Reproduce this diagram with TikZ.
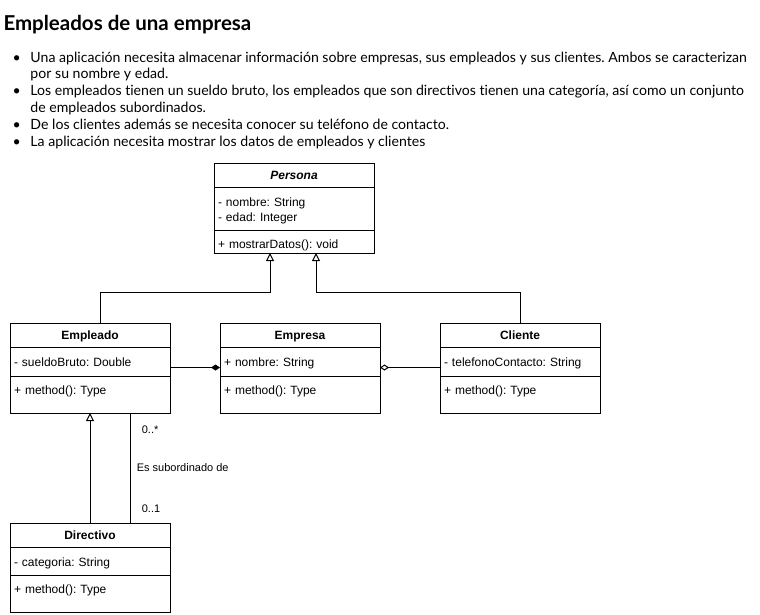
\documentclass[tikz,border=0pt]{standalone}
\usepackage{fontspec}
\setmainfont{Lato}[Ligatures=NoCommon]
\newfontfamily\umlfont{Liberation Sans}
\usetikzlibrary{arrows.meta, positioning}
\frenchspacing

\begin{document}
\begin{tikzpicture}[x=1pt, y=-1pt, line width=1pt,
  classname/.style={draw, minimum width=160, minimum height=24, inner sep=0pt, outer sep=0pt, text height=10pt, text depth=1pt, font=\umlfont\fontsize{12}{14}\selectfont\bfseries},
  attrs/.style={draw, text width=152, inner xsep=4pt, inner ysep=0pt, outer sep=0pt, align=left, font=\umlfont\fontsize{12}{15}\selectfont, text height=19, text depth=#1},
  meths/.style={draw, text width=152, inner xsep=4pt, inner ysep=0pt, outer sep=0pt, align=left, font=\umlfont\fontsize{12}{15}\selectfont, text height=18, text depth=#1},
  gen/.style={-{Triangle[open, length=8pt, width=8pt]}},
  comp/.style={-{Diamond[length=9pt, width=6pt]}},
  aggr/.style={-{Diamond[open, length=9pt, width=6pt]}},
  mult/.style={font=\umlfont\fontsize{11}{13}\selectfont, anchor=west}
]
\useasboundingbox (0,0) rectangle (760,614);

% Enunciado
\node[anchor=base west, inner sep=0pt, font=\fontsize{20.5}{24}\selectfont\bfseries] (titulo) at (3,30) {Empleados de una empresa};
\node[anchor=base west, inner sep=0pt, font=\fontsize{14.1}{16.8}\selectfont] (requisitos) at (10,62) {%
  \begin{tabular}[t]{@{}p{20pt}@{}l@{}}
  \hspace{2pt}\textbullet & Una aplicación necesita almacenar información sobre empresas, sus empleados y sus clientes. Ambos se caracterizan\\
  & por su nombre y edad.\\
  \hspace{2pt}\textbullet & Los empleados tienen un sueldo bruto, los empleados que son directivos tienen una categoría, así como un conjunto\\
  & de empleados subordinados.\\
  \hspace{2pt}\textbullet & De los clientes además se necesita conocer su teléfono de contacto.\\
  \hspace{2pt}\textbullet & La aplicación necesita mostrar los datos de empleados y clientes
  \end{tabular}};

% --- Clase Persona ---
\node[classname, anchor=north west, font=\umlfont\fontsize{12}{14}\selectfont\bfseries\itshape] (persona) at (214,163) {Persona};
\node[attrs=24, below=0pt of persona] (persona-attr) {- nombre: String\\- edad: Integer};
\node[meths=5, below=0pt of persona-attr] (persona-met) {+ mostrarDatos(): void};

% --- Clase Empleado ---
\node[classname, anchor=north west] (empleado) at (10,323) {Empleado};
\node[attrs=10, below=0pt of empleado] (empleado-attr) {- sueldoBruto: Double};
\node[meths=19, below=0pt of empleado-attr] (empleado-met) {+ method(): Type};

% --- Clase Empresa ---
\node[classname, anchor=north west] (empresa) at (220,323) {Empresa};
\node[attrs=10, below=0pt of empresa] (empresa-attr) {+ nombre: String};
\node[meths=19, below=0pt of empresa-attr] (empresa-met) {+ method(): Type};

% --- Clase Cliente ---
\node[classname, anchor=north west] (cliente) at (440,323) {Cliente};
\node[attrs=10, below=0pt of cliente] (cliente-attr) {- telefonoContacto: String};
\node[meths=19, below=0pt of cliente-attr] (cliente-met) {+ method(): Type};

% --- Clase Directivo ---
\node[classname, anchor=north west] (directivo) at (10,523) {Directivo};
\node[attrs=9, below=0pt of directivo] (directivo-attr) {- categoria: String};
\node[meths=19, below=0pt of directivo-attr] (directivo-met) {+ method(): Type};

% --- Herencia ---
\draw[gen] ([xshift=10pt]empleado.north) -- ++(0,-31) -| ([xshift=-24pt]persona-met.south);
\draw[gen] (cliente.north) -- ++(0,-31) -| ([xshift=22pt]persona-met.south);
\draw[gen] (directivo.north) -- (empleado-met.south);

% --- Composicion / agregacion ---
\draw[comp] ([yshift=-6pt]empleado-attr.east) -- ([yshift=-6pt]empresa-attr.west);
\draw[aggr] ([yshift=-6pt]cliente-attr.west) -- ([yshift=-6pt]empresa-attr.east);

% --- Asociacion reflexiva ---
\draw ([xshift=40pt]empleado-met.south) --
  node[mult, pos=0.15, xshift=8pt] {0..*}
  node[mult, midway, xshift=3pt] {Es subordinado de}
  node[mult, pos=0.87, xshift=8pt] {0..1}
  ([xshift=40pt]directivo.north);

\end{tikzpicture}
\end{document}
